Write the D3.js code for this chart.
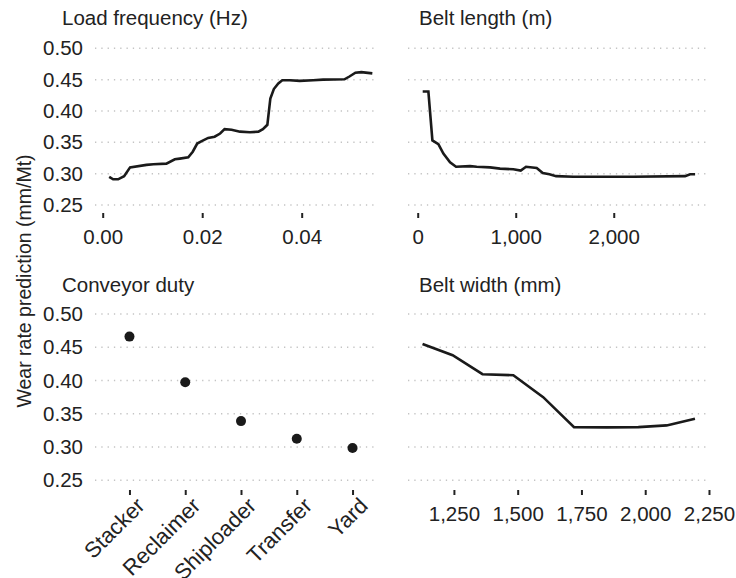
<!DOCTYPE html>
<html>
<head>
<meta charset="utf-8">
<script src="https://cdn.jsdelivr.net/npm/d3@7"></script>
<style>
  body { margin: 0; background: #fff; }
  svg text { font-family: "Liberation Sans", Arial, Helvetica, sans-serif; fill: #222; }
  .grid line { stroke: #c4c4c4; stroke-width: 1.5; stroke-dasharray: 1.3 5; }
  .axis path.domain { display: none; }
  .axis line { stroke: #222; stroke-width: 2; }
</style>
</head>
<body>
<div id="chart-area"></div>
<script>

// data
let freqX = [0.0013, 0.0021, 0.0031, 0.0043, 0.0055, 0.0088, 0.0102, 0.0128, 0.0145, 0.0155,
	0.0172, 0.0181, 0.0190, 0.0199, 0.0212, 0.0225, 0.0236, 0.0245, 0.0259, 0.0276,
	0.0296, 0.0313, 0.0322, 0.0331, 0.0337, 0.0344, 0.0353, 0.0361, 0.0376, 0.0396,
	0.0423, 0.0443, 0.0486, 0.0496, 0.0508, 0.0520, 0.0542];
let freqY = [0.295, 0.291, 0.291, 0.296, 0.310, 0.314, 0.315, 0.316, 0.323, 0.324,
	0.326, 0.335, 0.348, 0.352, 0.357, 0.359, 0.364, 0.371, 0.370, 0.367,
	0.366, 0.367, 0.371, 0.378, 0.420, 0.435, 0.444, 0.449, 0.449, 0.448,
	0.449, 0.450, 0.4505, 0.455, 0.461, 0.462, 0.460];

let lengthX = [51, 109, 150, 211, 262, 330, 391, 534, 602, 738, 840, 976, 1051, 1105,
	1214, 1276, 1344, 1412, 1588, 2201, 2728, 2779, 2830];
let lengthY = [0.431, 0.431, 0.353, 0.347, 0.332, 0.318, 0.311, 0.312, 0.311, 0.310, 0.308,
	0.307, 0.305, 0.311, 0.309, 0.301, 0.299, 0.296, 0.295, 0.295, 0.296, 0.299, 0.299];

let dutyCats = ["Stacker", "Reclaimer", "Shiploader", "Transfer", "Yard"];
let dutyY = [0.466, 0.3975, 0.339, 0.3125, 0.2985];

let widthX = [1127, 1245, 1362, 1483, 1600, 1721, 1849, 1973, 2084, 2195];
let widthY = [0.455, 0.438, 0.4095, 0.408, 0.375, 0.330, 0.3295, 0.330, 0.3325, 0.3425];

let yTicks = [0.25, 0.30, 0.35, 0.40, 0.45, 0.50];
let freqTicks = [0, 0.02, 0.04];
let lengthTicks = [0, 1000, 2000];
let widthTicks = [1250, 1500, 1750, 2000, 2250];

// layout
let svg = d3.select("#chart-area").append("svg")
	.attr("width", 736)
	.attr("height", 578);

let leftX = [95, 378], rightX = [408, 710];
let topY = d3.scaleLinear().domain([0.25, 0.50]).range([205, 48.3]);
let botY = d3.scaleLinear().domain([0.25, 0.50]).range([480.3, 314]);

let xFreq = d3.scaleLinear().domain([-0.00155, 0.05534]).range(leftX);
let xLength = d3.scaleLinear().domain([-99, 2982]).range(rightX);
let xDuty = d3.scalePoint().domain(dutyCats).range([96, 386]).padding(0.6);
let xWidth = d3.scaleLinear().domain([1070, 2254]).range(rightX);

let fontSize = 20.5;

// horizontal dotted grid
function drawGrid(xr, y) {
	svg.append("g")
		.attr("class", "grid")
		.selectAll("line")
		.data(yTicks)
		.enter()
		.append("line")
		.attr("x1", xr[0])
		.attr("x2", xr[1])
		.attr("y1", d => y(d))
		.attr("y2", d => y(d));
}

function yLabels(y) {
	let ax = svg.append("g")
		.attr("class", "axis")
		.attr("transform", "translate(85,0)")
		.call(d3.axisLeft(y).tickValues(yTicks).tickSize(0).tickPadding(2).tickFormat(d3.format(".2f")));
	ax.selectAll("text").style("font-size", fontSize + "px");
}

function title(txt, x, y) {
	svg.append("text")
		.attr("x", x)
		.attr("y", y)
		.style("font-size", fontSize + "px")
		.text(txt);
}

function xAxis(scale, ticks, fmt, y) {
	let ax = svg.append("g")
		.attr("class", "axis")
		.attr("transform", "translate(0," + y + ")")
		.call(d3.axisBottom(scale).tickValues(ticks).tickSize(5).tickPadding(11).tickFormat(fmt));
	ax.selectAll("text").style("font-size", fontSize + "px");
	return ax;
}

let line = (x, y) => d3.line().x(d => x(d[0])).y(d => y(d[1]));

// Load frequency
drawGrid(leftX, topY);
yLabels(topY);
title("Load frequency (Hz)", 62, 25);
xAxis(xFreq, freqTicks, d3.format(".2f"), 213);
svg.append("path")
	.datum(d3.zip(freqX, freqY))
	.attr("d", line(xFreq, topY))
	.attr("fill", "none")
	.attr("stroke", "#1a1a1a")
	.attr("stroke-width", 2.6);

// Belt length
drawGrid(rightX, topY);
title("Belt length (m)", 419, 25);
xAxis(xLength, lengthTicks, d3.format(","), 213);
svg.append("path")
	.datum(d3.zip(lengthX, lengthY))
	.attr("d", line(xLength, topY))
	.attr("fill", "none")
	.attr("stroke", "#1a1a1a")
	.attr("stroke-width", 2.6);

// Conveyor duty
drawGrid(leftX, botY);
yLabels(botY);
title("Conveyor duty", 62, 292);
let dutyAxis = xAxis(xDuty, dutyCats, d => d, 490);
dutyAxis.selectAll("text")
	.attr("y", 0)
	.attr("dy", "0.71em")
	.attr("text-anchor", "end")
	.style("font-size", "22px")
	.attr("transform", "translate(5,6) rotate(-45)");
svg.append("g")
	.selectAll("circle")
	.data(dutyCats)
	.enter()
	.append("circle")
	.attr("cx", d => xDuty(d))
	.attr("cy", (d, i) => botY(dutyY[i]))
	.attr("r", 5)
	.attr("fill", "#1a1a1a");

// Belt width
drawGrid(rightX, botY);
title("Belt width (mm)", 419, 292);
xAxis(xWidth, widthTicks, d3.format(","), 490);
svg.append("path")
	.datum(d3.zip(widthX, widthY))
	.attr("d", line(xWidth, botY))
	.attr("fill", "none")
	.attr("stroke", "#1a1a1a")
	.attr("stroke-width", 2.6);

// shared y title
svg.append("text")
	.attr("transform", "translate(31,281) rotate(-90)")
	.attr("text-anchor", "middle")
	.style("font-size", "19.5px")
	.text("Wear rate prediction (mm/Mt)");

</script>
</body>
</html>
